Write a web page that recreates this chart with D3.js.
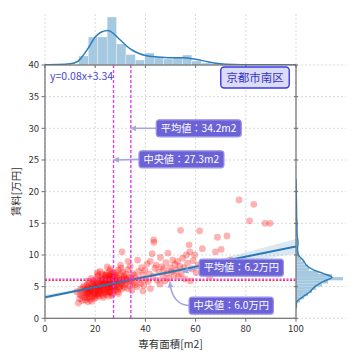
<!DOCTYPE html>
<html>
<head>
<meta charset="utf-8">
<script src="https://cdn.jsdelivr.net/npm/d3@7"></script>
<style>
  body { margin: 0; background: #fff; }
  svg { display: block; }
</style>
</head>
<body>
<div id="chart"></div>
<script>
// 専有面積[m2], 賃料[万円]
const points = [
  [12.6,4.2],[13.3,2.4],[13.8,3.1],[14.2,4.6],[14.5,3.6],[14.9,2.8],[15.2,4.0],[15.5,5.1],[15.8,3.3],[15.9,4.4],[13.9,3.8],[15.0,4.8],
  [16.1,2.9],[16.3,3.7],[16.4,4.5],[16.6,5.2],[16.8,3.2],[17.0,4.1],[17.1,2.6],[17.3,4.8],[17.5,3.5],[17.6,5.6],[17.8,4.3],[18.0,3.0],[18.1,3.9],
  [18.3,5.0],[18.4,4.6],[18.6,2.7],[18.7,3.4],[18.9,5.4],[19.0,4.2],[19.1,6.0],[19.3,3.8],[19.4,4.9],[19.6,3.1],[19.7,5.7],[19.9,4.4],[17.2,5.9],
  [18.5,6.3],[16.9,4.9],[19.8,3.6],[17.9,4.7],[16.7,4.0],[18.2,4.4],[19.5,5.2],[17.4,3.9],
  [20.0,4.0],[20.1,5.3],[20.3,3.3],[20.4,6.1],[20.6,4.6],[20.7,5.0],[20.9,3.7],[21.0,6.6],[21.2,4.3],[21.3,5.5],[21.5,3.5],[21.6,4.9],[21.8,6.0],
  [21.9,4.1],[22.1,5.8],[22.2,3.9],[22.4,5.2],[22.5,6.4],[22.7,4.5],[22.8,7.0],[23.0,3.6],[23.1,5.0],[23.3,6.2],[23.4,4.7],[23.6,5.6],[23.7,4.0],
  [23.9,6.8],[22.0,7.4],[20.8,7.2],[21.4,4.4],[22.6,5.4],[23.2,3.3],[20.2,4.8],[23.8,5.3],[21.1,6.9],[20.5,5.6],[21.7,5.1],[22.3,4.8],[22.9,5.9],
  [23.5,4.4],[21.2,3.9],[22.8,6.1],
  [24.0,4.2],[24.1,5.7],[24.2,6.5],[24.4,3.8],[24.5,5.1],[24.6,7.1],[24.8,8.1],[24.9,4.6],[25.0,6.0],[25.1,5.4],[25.3,3.5],[25.4,6.7],[25.5,4.9],
  [25.7,5.9],[25.8,7.5],[25.9,4.3],[26.0,6.3],[26.2,5.2],[26.3,4.0],[26.4,6.9],[26.5,5.6],[26.7,4.7],[26.8,6.1],[26.9,7.3],[27.0,5.0],[27.1,3.9],
  [27.3,6.4],[27.4,5.5],[27.5,4.4],[27.7,6.8],[27.8,5.8],[27.9,4.8],[26.1,7.8],[25.2,6.2],[24.7,5.3],[26.6,3.6],[27.2,7.0],[25.6,4.1],[24.3,6.8],
  [27.6,5.1],[24.5,5.9],[25.3,5.0],[26.0,5.5],[26.6,6.5],[27.2,5.9],[25.7,6.6],[24.9,4.2],[26.3,4.9],[27.9,6.2],
  [28.0,6.0],[28.2,4.5],[28.3,7.2],[28.5,5.3],[28.7,6.6],[28.9,4.2],[29.0,5.7],[29.2,7.6],[29.4,5.0],[29.5,6.3],[29.7,4.8],[29.9,6.9],[30.0,5.5],
  [30.2,7.9],[30.4,4.6],[30.5,6.1],[30.7,10.5],[30.8,5.2],[31.0,7.3],[31.2,5.9],[31.4,6.7],[31.6,4.9],[31.8,6.2],[30.1,8.4],[29.3,3.9],
  [28.6,5.9],[29.6,6.0],[30.6,5.6],[31.5,6.4],
  [32.0,5.4],[32.3,7.0],[32.5,6.0],[32.8,4.7],[33.0,7.7],[33.3,5.8],[33.5,6.5],[33.8,5.1],[34.0,8.2],[34.3,6.3],[34.6,4.4],[34.9,7.1],[35.2,5.6],
  [35.5,6.8],[35.8,5.3],[33.1,9.0],[32.6,6.2],[34.4,5.9],
  [36.2,6.4],[36.6,5.0],[36.9,9.2],[37.3,7.4],[37.7,6.1],[38.1,5.5],[38.5,8.0],[38.9,6.9],[39.3,5.2],[39.8,7.6],[40.2,6.2],[40.7,8.6],[41.1,5.8],
  [41.6,7.0],[42.0,4.7],[42.7,10.2],[43.0,6.6],[43.3,12.4],[43.4,12.0],[43.8,7.9],[41.9,9.0],[39.0,4.3],
  [44.3,8.4],[44.8,6.0],[45.3,7.3],[45.8,5.4],[46.0,9.6],[46.4,8.1],[46.9,6.7],[47.3,7.8],[47.8,5.9],[48.2,8.8],[48.6,7.1],[49.0,10.3],[49.4,6.3],
  [49.9,8.0],[50.4,7.4],[50.9,9.2],[51.4,6.8],[51.8,8.5],
  [52.3,7.6],[52.8,9.0],[53.2,6.6],[53.7,8.2],[54.0,13.9],[54.3,7.0],[54.8,9.5],[55.3,8.0],[55.8,6.2],[56.3,10.0],[56.8,8.7],[57.4,11.6],[57.7,10.5],
  [58.0,5.9],[58.5,7.8],[59.0,9.1],[59.6,10.0],[60.3,7.2],[61.0,8.4],[61.6,13.8],
  [62.7,11.0],[63.5,7.5],[65.0,8.5],[65.6,6.6],[67.0,7.9],[67.9,10.5],[68.7,12.8],[70.2,10.9],[72.5,13.0],[74.0,9.2],[77.3,18.7],[81.5,15.4],
  [83.2,18.0],[87.7,15.0],[89.7,15.0],
];

// marginal histograms (bin start, bin width, counts)
const areaBinStart = 13.5, areaBinWidth = 3.75;
const areaCounts = [9, 28, 28, 48, 21, 10.5, 5, 12, 8, 6, 8, 10, 4, 2, 1, 1, 0.5, 0.5, 0.5, 0.3, 0.5, 0.5];
const rentBinStart = 2, rentBinWidth = 0.5;
const rentCounts = [1, 4, 8, 12, 16, 20, 26, 32, 47, 36, 22, 13, 12, 8, 5, 3, 2, 1, 1, 1, 1, 0, 1, 1, 0, 1, 0, 0, 1, 0, 1, 1, 0, 0, 0, 0];

// marginal KDE curves
const areaKde = [[0,0.3],[5,0.5],[10,1.2],[13,3.5],[15,9],[17.5,18],[20,28],[22.5,33],[25.2,34.5],[27.5,31],[30,25],[32.5,19],[35,14.5],
  [37.5,11.5],[40,9.5],[45,8],[50,7.3],[55,7.3],[60,5.8],[65,3.2],[70,1.2],[75,0.5],[80,0.3],[90,0.2],[100,0.1]];
const rentKde = [[1.5,0],[2,0.3],[2.6,0.8],[3.4,7],[4.2,14],[5,19],[5.8,27],[6.47,36],[7.1,27],[7.6,18],[8.15,12],[9.2,7],[10,2.5],
  [11,1.5],[12,2],[13,1.2],[14,1],[15,1],[16,0.6],[18,0.5],[20,0.2],[22,0]];

// regression
const slope = 0.08, intercept = 3.34;
const ciHalf = [[0,0.35],[20,0.15],[34,0.1],[50,0.2],[70,0.45],[85,0.8],[100,1.2]];

const meanArea = 34.2, medianArea = 27.3, meanRent = 6.2, medianRent = 6.0;
const xTicks = [0, 20, 40, 60, 80, 100];
const yTicks = [0, 5, 10, 15, 20, 25, 30, 35, 40];
const title = '京都市南区';
const f1 = d3.format('.1f');
const equation = `y=${slope}x+${intercept}`;
const notes = [
  { text: `平均値：${f1(meanArea)}m2`, at: [meanArea, 30], textAt: [61.2, 30], curve: 0 },
  { text: `中央値：${f1(medianArea)}m2`, at: [medianArea, 25], textAt: [54.3, 25.1], curve: 0 },
  { text: `平均値：${f1(meanRent)}万円`, at: [55, 7.3], textAt: [78.2, 8.0], curve: 0 },
  { text: `中央値：${f1(medianRent)}万円`, at: [49.8, 5.7], textAt: [74.2, 2.0], curve: 1 },
];

const W = 360, H = 360;
const font = '"Noto Sans CJK JP", "DejaVu Sans", sans-serif';
const svg = d3.select('#chart').append('svg').attr('width', W).attr('height', H)
  .style('font-family', font);

const x = d3.scaleLinear([0, 100], [45, 296]);
const y = d3.scaleLinear([0, 40], [318.3, 65]);
const topY = d3.scaleLinear([0, 51], [65, 14]);
const rightX = d3.scaleLinear([0, 50], [296, 346]);

const defs = svg.append('defs');
defs.append('clipPath').attr('id', 'main').append('rect')
  .attr('x', x(0)).attr('y', y(40)).attr('width', x(100) - x(0)).attr('height', y(0) - y(40));
defs.append('clipPath').attr('id', 'top').append('rect')
  .attr('x', x(0)).attr('y', topY(51)).attr('width', x(100) - x(0)).attr('height', topY(0) - topY(51));
defs.append('clipPath').attr('id', 'right').append('rect')
  .attr('x', rightX(0)).attr('y', y(40)).attr('width', rightX(50) - rightX(0)).attr('height', y(0) - y(40));
defs.append('marker').attr('id', 'head').attr('viewBox', '0 0 10 10').attr('refX', 9).attr('refY', 5)
  .attr('markerWidth', 6).attr('markerHeight', 6).attr('markerUnits', 'userSpaceOnUse').attr('orient', 'auto')
  .append('path').attr('d', 'M0,0L10,5L0,10z').attr('fill', '#a6a6e4');

const gridColor = '#cfcfcf';
// grids
const grid = svg.append('g').attr('stroke', gridColor).attr('stroke-width', 0.8).attr('stroke-dasharray', '2,2');
grid.selectAll('.vx').data(xTicks).join('line')
  .attr('x1', (d) => x(d)).attr('x2', (d) => x(d)).attr('y1', topY(51)).attr('y2', y(0));
grid.selectAll('.hy').data(yTicks).join('line')
  .attr('x1', x(0)).attr('x2', rightX(50)).attr('y1', (d) => y(d)).attr('y2', (d) => y(d));

const histFill = '#a5c9e1', kdeColor = '#2f7db8';
// top marginal
const topG = svg.append('g').attr('clip-path', 'url(#top)');
topG.selectAll('rect').data(areaCounts).join('rect')
  .attr('x', (d, i) => x(areaBinStart + i * areaBinWidth))
  .attr('width', x(areaBinWidth) - x(0))
  .attr('y', (d) => topY(d)).attr('height', (d) => topY(0) - topY(d))
  .attr('fill', histFill).attr('stroke', '#fff').attr('stroke-width', 0.3);
topG.append('path').datum(areaKde)
  .attr('d', d3.line().x((d) => x(d[0])).y((d) => topY(d[1])).curve(d3.curveMonotoneX))
  .attr('fill', 'none').attr('stroke', kdeColor).attr('stroke-width', 1.5);

// right marginal
const rightG = svg.append('g').attr('clip-path', 'url(#right)');
rightG.selectAll('rect').data(rentCounts).join('rect')
  .attr('x', rightX(0)).attr('width', (d) => rightX(d) - rightX(0))
  .attr('y', (d, i) => y(rentBinStart + (i + 1) * rentBinWidth))
  .attr('height', y(0) - y(rentBinWidth))
  .attr('fill', histFill);
rightG.append('path').datum(rentKde)
  .attr('d', d3.line().x((d) => rightX(d[1])).y((d) => y(d[0])).curve(d3.curveMonotoneY))
  .attr('fill', 'none').attr('stroke', kdeColor).attr('stroke-width', 1.5);

// main plot
const main = svg.append('g').attr('clip-path', 'url(#main)');
main.append('g').selectAll('circle').data(points).join('circle')
  .attr('cx', (d) => x(d[0])).attr('cy', (d) => y(d[1])).attr('r', 3.4)
  .attr('fill', 'rgba(255,0,0,0.3)');

main.append('path').datum(ciHalf)
  .attr('d', d3.area().x((d) => x(d[0]))
    .y0((d) => y(intercept + slope * d[0] - d[1])).y1((d) => y(intercept + slope * d[0] + d[1]))
    .curve(d3.curveMonotoneX))
  .attr('fill', 'rgba(47,125,184,0.18)');
main.append('line')
  .attr('x1', x(0)).attr('y1', y(intercept)).attr('x2', x(100)).attr('y2', y(intercept + slope * 100))
  .attr('stroke', '#2b78b5').attr('stroke-width', 2);

const refs = svg.append('g').attr('fill', 'none');
refs.selectAll('line.v').data([medianArea, meanArea]).join('line').attr('class', 'v')
  .attr('x1', (d) => x(d)).attr('x2', (d) => x(d)).attr('y1', y(40)).attr('y2', y(0))
  .attr('stroke', '#e23cf0').attr('stroke-width', 1.4).attr('stroke-dasharray', '3,2');
refs.append('line').attr('x1', x(0)).attr('x2', x(100)).attr('y1', y(medianRent)).attr('y2', y(medianRent))
  .attr('stroke', '#ff2a55').attr('stroke-width', 1.3).attr('stroke-dasharray', '2,1.5');
refs.append('line').attr('x1', x(0)).attr('x2', x(100)).attr('y1', y(meanRent)).attr('y2', y(meanRent))
  .attr('stroke', '#ee30c8').attr('stroke-width', 1.3).attr('stroke-dasharray', '2,1.5');

// spines + ticks
const spine = '#707070';
svg.append('rect').attr('x', x(0)).attr('y', y(40)).attr('width', x(100) - x(0)).attr('height', y(0) - y(40))
  .attr('fill', 'none').attr('stroke', spine).attr('stroke-width', 1.2);
const ticks = svg.append('g').attr('stroke', spine).attr('stroke-width', 1);
ticks.selectAll('.bx').data(xTicks).join('line')
  .attr('x1', (d) => x(d)).attr('x2', (d) => x(d)).attr('y1', y(0)).attr('y2', y(0) + 3.5);
ticks.selectAll('.tx').data(xTicks).join('line')
  .attr('x1', (d) => x(d)).attr('x2', (d) => x(d)).attr('y1', y(40)).attr('y2', y(40) + 3);
ticks.selectAll('.ly').data(yTicks).join('line')
  .attr('x1', x(0) - 3.5).attr('x2', x(0)).attr('y1', (d) => y(d)).attr('y2', (d) => y(d));
ticks.selectAll('.ry').data(yTicks).join('line')
  .attr('x1', x(100) - 2).attr('x2', x(100) + 2).attr('y1', (d) => y(d)).attr('y2', (d) => y(d));

const labels = svg.append('g').attr('fill', '#333').attr('font-size', 9.5);
labels.selectAll('.xl').data(xTicks).join('text')
  .attr('x', (d) => x(d)).attr('y', y(0) + 14).attr('text-anchor', 'middle').text((d) => d);
labels.selectAll('.yl').data(yTicks).join('text')
  .attr('x', x(0) - 6).attr('y', (d) => y(d)).attr('dy', '0.35em').attr('text-anchor', 'end').text((d) => d);
svg.append('text').attr('x', (x(0) + x(100)) / 2).attr('y', 348).attr('text-anchor', 'middle')
  .attr('font-size', 10.5).attr('fill', '#333').text('専有面積[m2]');
svg.append('text').attr('transform', `translate(20,${(y(0) + y(40)) / 2}) rotate(-90)`).attr('text-anchor', 'middle')
  .attr('font-size', 10.5).attr('fill', '#333').text('賃料[万円]');

// equation
svg.append('text').attr('x', x(2)).attr('y', y(40) + 15).attr('font-size', 10.5).attr('fill', '#4848d4').text(equation);

// title box
const tb = svg.append('g');
const tt = tb.append('text').attr('x', 255).attr('y', 77.5).attr('dy', '0.35em').attr('text-anchor', 'middle')
  .attr('font-size', 11.5).attr('fill', '#3434c8').text(title);
const tbb = tt.node().getBBox();
tb.insert('rect', 'text').attr('x', tbb.x - 5.5).attr('y', 67).attr('width', tbb.width + 11).attr('height', 21)
  .attr('rx', 3.5).attr('fill', '#dcdcf6').attr('stroke', '#3a3ae6').attr('stroke-width', 1.4);

// annotations
notes.forEach((n) => {
  const g = svg.append('g');
  const cx = x(n.textAt[0]), cy = y(n.textAt[1]);
  const t = g.append('text').attr('x', cx).attr('y', cy).attr('dy', '0.35em').attr('text-anchor', 'middle')
    .attr('font-size', 10.2).attr('fill', '#fff').text(n.text);
  const b = t.node().getBBox();
  const bx = b.x - 4.5, bw = b.width + 9, by = cy - 8.5, bh = 17;
  const tx = x(n.at[0]), ty = y(n.at[1]);
  const path = d3.path();
  if (n.curve) {
    path.moveTo(bx + 2, cy);
    path.quadraticCurveTo(tx + 2, cy, tx, ty);
  } else {
    path.moveTo(bx, cy);
    path.lineTo(tx, ty);
  }
  g.insert('path', 'text').attr('d', path.toString()).attr('fill', 'none').attr('stroke', '#a6a6e4').attr('stroke-width', 1.6)
    .attr('marker-end', 'url(#head)');
  g.insert('rect', 'text').attr('x', bx).attr('y', by).attr('width', bw).attr('height', bh).attr('rx', 3)
    .attr('fill', '#6a62d6').attr('stroke', '#9a92ea').attr('stroke-width', 1.2);
});
</script>
</body>
</html>
